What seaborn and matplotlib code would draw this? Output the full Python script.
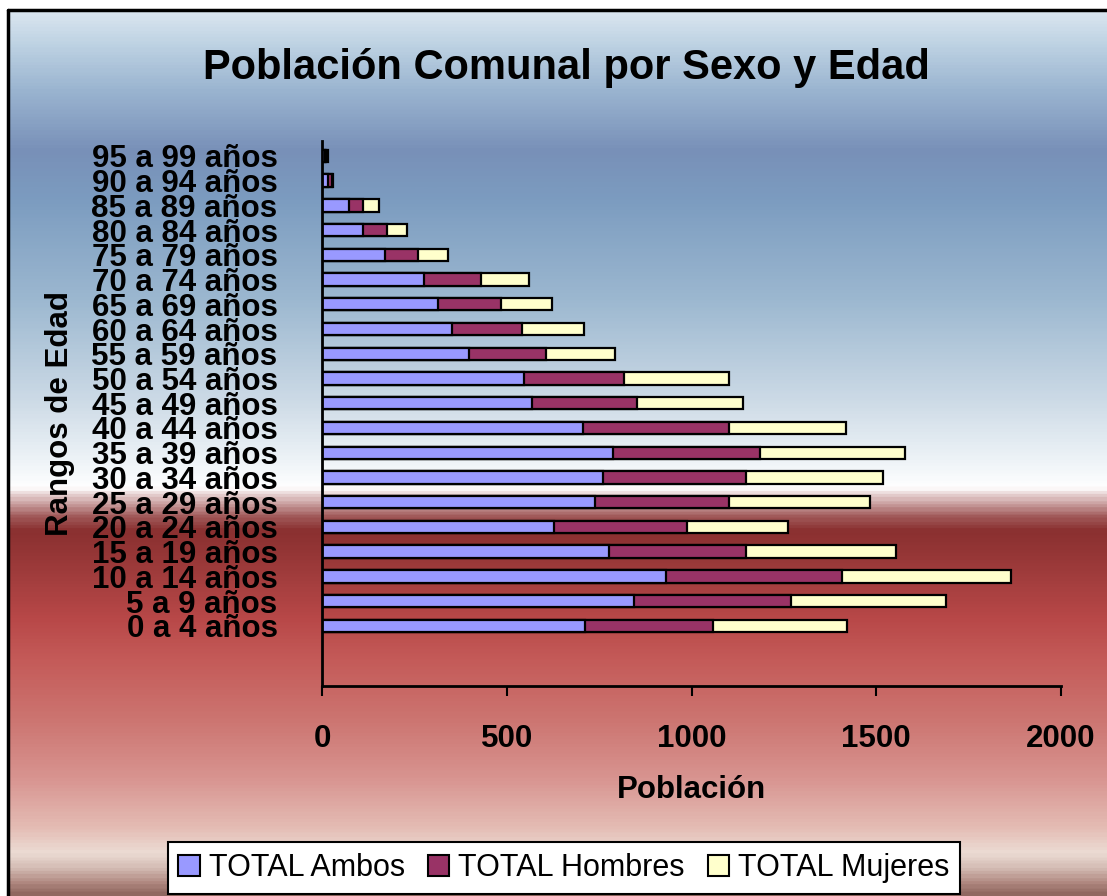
"""
plot.py

Stacked horizontal bar chart: Poblacion Comunal por Sexo y Edad.
"""

import numpy as np
import pandas as pd
import matplotlib
matplotlib.use('Agg')
import matplotlib.pyplot as plt
from matplotlib.colors import LinearSegmentedColormap
from matplotlib.patches import Patch
from matplotlib.lines import Line2D
import seaborn as sns

sns.set_style('white')
plt.rcParams['font.family'] = ['Liberation Sans', 'DejaVu Sans']
plt.rcParams['text.color'] = 'black'
plt.rcParams['axes.labelcolor'] = 'black'

# Data (top to bottom as drawn)
rangos = ['95 a 99 años', '90 a 94 años', '85 a 89 años', '80 a 84 años',
          '75 a 79 años', '70 a 74 años', '65 a 69 años', '60 a 64 años',
          '55 a 59 años', '50 a 54 años', '45 a 49 años', '40 a 44 años',
          '35 a 39 años', '30 a 34 años', '25 a 29 años', '20 a 24 años',
          '15 a 19 años', '10 a 14 años', '5 a 9 años', '0 a 4 años']
total_ambos = [8, 15, 73, 110, 170, 276, 314, 352, 398, 547,
               569, 707, 787, 761, 739, 628, 776, 930, 845, 711]
total_hombres = [4, 12, 38, 65, 90, 154, 170, 188, 208, 269,
                 284, 395, 399, 386, 363, 359, 371, 477, 424, 347]
total_mujeres = [5, 4, 43, 54, 80, 129, 139, 168, 187, 286,
                 286, 315, 391, 370, 382, 275, 406, 457, 420, 364]
x_ticks = [0, 500, 1000, 1500, 2000]

series = ['TOTAL Ambos', 'TOTAL Hombres', 'TOTAL Mujeres']
colors = ['#9999ff', '#993366', '#ffffcc']

df = pd.DataFrame({'Rango': rangos, 'Ambos': total_ambos,
                   'Hombres': total_hombres, 'Mujeres': total_mujeres})
df['c1'] = df['Ambos']
df['c2'] = df['c1'] + df['Hombres']
df['c3'] = df['c2'] + df['Mujeres']

W, H = 1107, 896
fig = plt.figure(figsize=(W / 100, H / 100), dpi=100)
fig.patch.set_facecolor('white')

# Background gradient inside the chart border
stops = [(0.0, '#dae6f0'), (0.034, '#c0d4e4'), (0.09, '#9ab4d0'),
         (0.158, '#7890b8'), (0.214, '#7c9cc0'), (0.327, '#9cb8d0'),
         (0.44, '#ccdae6'), (0.525, '#f6f9fb'), (0.54, '#ffffff'),
         (0.547, '#e8d4d4'), (0.559, '#c89c9c'), (0.573, '#a05858'),
         (0.589, '#8a3030'), (0.621, '#983838'), (0.688, '#b84848'),
         (0.734, '#c45a58'), (0.801, '#cc7470'), (0.869, '#d89490'),
         (0.925, '#e4bcb4'), (0.954, '#ecdcd4'), (0.971, '#d4bcb4'),
         (0.988, '#b08880'), (1.0, '#906860')]
cmap = LinearSegmentedColormap.from_list('bg', stops)
x0 = 8 / W
ytop = 1 - 10 / H
bg = fig.add_axes([x0, 0, 1 - x0, ytop], zorder=-10)
bg.imshow(np.linspace(0, 1, 600).reshape(-1, 1), aspect='auto', cmap=cmap,
          extent=[0, 1, 0, 1], origin='upper')
bg.set_axis_off()

# Chart border (left and top visible)
fig.add_artist(Line2D([x0, x0], [0, ytop], color='black', lw=2.5,
                      transform=fig.transFigure))
fig.add_artist(Line2D([x0, 1], [ytop, ytop], color='black', lw=2.5,
                      transform=fig.transFigure))

# Plot area
ax = fig.add_axes([322 / W, 1 - 686 / H, (1061 - 322) / W, (686 - 141) / H])
ax.patch.set_alpha(0)

for col, color in zip(['c3', 'c2', 'c1'], colors[::-1]):
    sns.barplot(data=df, x=col, y='Rango', order=rangos, orient='h',
                color=color, edgecolor='black', linewidth=1.6,
                width=0.5, saturation=1, ax=ax)

ax.set_xlim(0, 2000)
ax.set_ylim(len(rangos) - 1 + 2.43, -0.6)
ax.set_xticks(x_ticks)
ax.set_xticklabels([str(t) for t in x_ticks])
ax.set_xlabel('')
ax.set_ylabel('')

for side in ['top', 'right']:
    ax.spines[side].set_visible(False)
for side in ['left', 'bottom']:
    ax.spines[side].set_color('black')
    ax.spines[side].set_linewidth(2)

ax.tick_params(axis='x', direction='out', length=7, width=1.5,
               pad=20, labelsize=22.5, colors='black', bottom=True)
ax.tick_params(axis='y', length=0, pad=32, labelsize=22.5, colors='black')
for lbl in ax.get_xticklabels() + ax.get_yticklabels():
    lbl.set_fontweight('bold')

# Titles and axis labels
fig.text(566 / W, 1 - 68 / H, 'Población Comunal por Sexo y Edad',
         ha='center', va='center', fontsize=30, fontweight='bold',
         color='black')
fig.text(691.5 / W, 1 - 790 / H, 'Población', ha='center', va='center',
         fontsize=22.5, fontweight='bold', color='black')
fig.text(60 / W, 1 - 413.5 / H, 'Rangos de Edad', ha='center', va='center',
         rotation=90, fontsize=22.5, fontweight='bold', color='black')

# Legend
handles = [Patch(facecolor=c, edgecolor='black', linewidth=1.5) for c in colors]
leg = fig.legend(handles, series, loc='center', ncol=3,
                 bbox_to_anchor=(564 / W, 1 - 868 / H), fontsize=22,
                 frameon=True, fancybox=False, framealpha=1,
                 handlelength=0.7, handleheight=0.7, handletextpad=0.3,
                 columnspacing=0.75, borderpad=0.35, borderaxespad=0)
leg.get_frame().set_edgecolor('black')
leg.get_frame().set_linewidth(1.5)
leg.get_frame().set_facecolor('white')
for t in leg.get_texts():
    t.set_color('black')

fig.savefig('out.png', dpi=100)
